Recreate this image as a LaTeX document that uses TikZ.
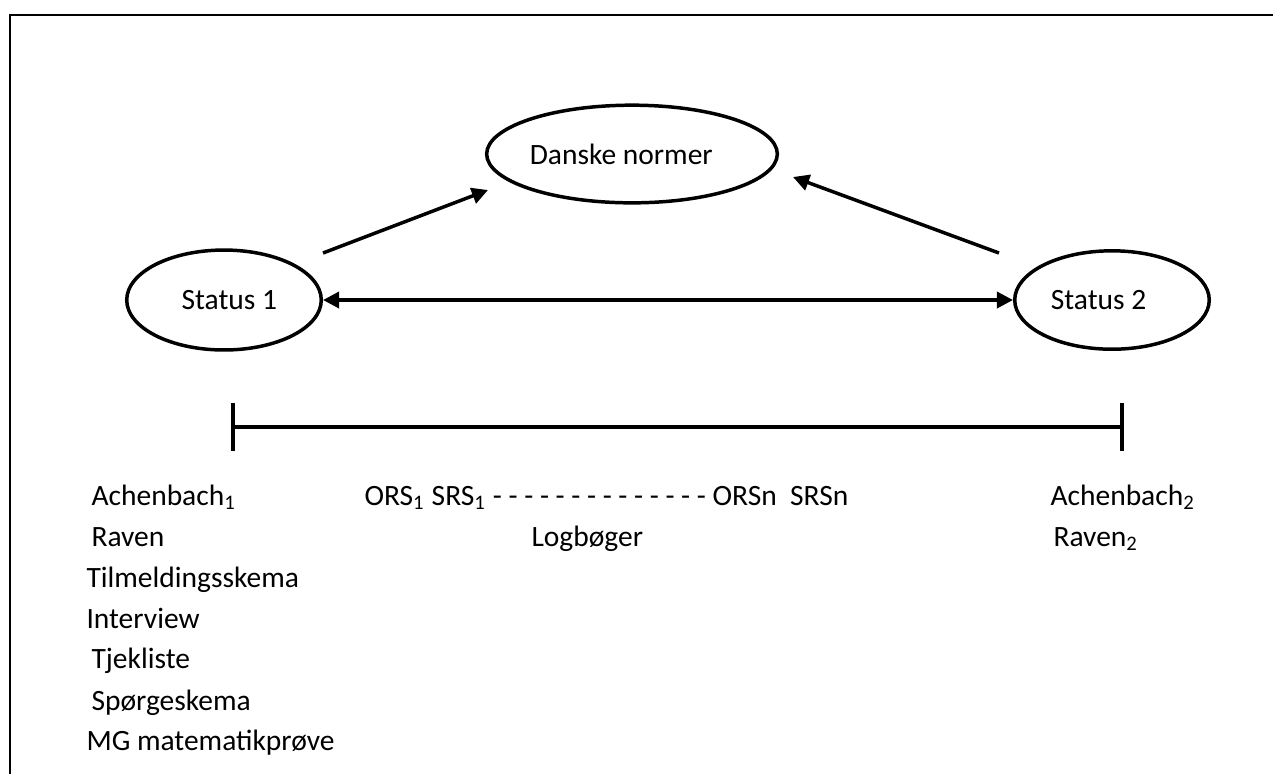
\documentclass[tikz,border=0pt]{standalone}
\usepackage{fontspec}
\setmainfont{Carlito}
\usepackage{tikz}
\usetikzlibrary{shapes.geometric,arrows.meta}

\begin{document}
\begin{tikzpicture}[
    x=0.0131cm, y=-0.0131cm,
    font=\fontsize{11}{13}\selectfont,
    oval/.style={ellipse, draw, line width=1.3pt, inner sep=0pt},
    pil/.style={line width=1.3pt, -{Triangle[length=6pt,width=6pt]}},
    tekst/.style={anchor=base west, inner sep=0pt}
]
\useasboundingbox (0,0) rectangle (1273,774);
\draw[line width=1pt] (10,774) -- (10,15) -- (1273,15);

\node[oval, minimum width=3.81cm, minimum height=1.28cm] (normer) at (632,154) {\hspace*{-8pt}Danske normer};
\node[oval, minimum width=2.55cm, minimum height=1.31cm] (status1) at (224,300) {Status 1\hspace*{-4pt}};
\node[oval, minimum width=2.55cm, minimum height=1.29cm] (status2) at (1112,300) {\hspace*{-10pt}Status 2};

\draw[pil] ([shift={(0,-47)}]status1.east) -- ([shift={(-144,36)}]normer.center);
\draw[pil] ([shift={(-14,-47)}]status2.west) -- ([shift={(161,23)}]normer.center);
\draw[pil, {Triangle[length=6pt,width=6pt]}-{Triangle[length=6pt,width=6pt]}] (status1.east) -- (status2.west);

% tidslinje
\coordinate (start) at (233,427);
\coordinate (slut) at (1122,427);
\draw[line width=1.3pt] (start) -- (slut);
\draw[line width=1.3pt] ([shift={(0,-24)}]start) -- ([shift={(0,24)}]start);
\draw[line width=1.3pt] ([shift={(0,-24)}]slut) -- ([shift={(0,24)}]slut);

\node[tekst] (achenbach1) at (91,505) {Achenbach\textsubscript{1}};
\node[tekst] (raven1) at (91,546) {Raven};
\node[tekst] (tilmelding) at (86,587) {Tilmeldingsskema};
\node[tekst] (interview) at (86,628) {Interview};
\node[tekst] (tjekliste) at (91,668) {Tjekliste};
\node[tekst] (sporgeskema) at (91,710) {Spørgeskema};
\node[tekst] (mgprove) at (86,750) {MG matematikprøve};

\node[tekst] (ors) at (364,505) {ORS\textsubscript{1} SRS\textsubscript{1} - - - - - - - - - - - - - - ORSn\ \ SRSn};
\node[tekst] (logboger) at (531,546) {Logbøger};

\node[tekst] (achenbach2) at (1050,505) {Achenbach\textsubscript{2}};
\node[tekst] (raven2) at (1053,546) {Raven\textsubscript{2}};
\end{tikzpicture}
\end{document}
